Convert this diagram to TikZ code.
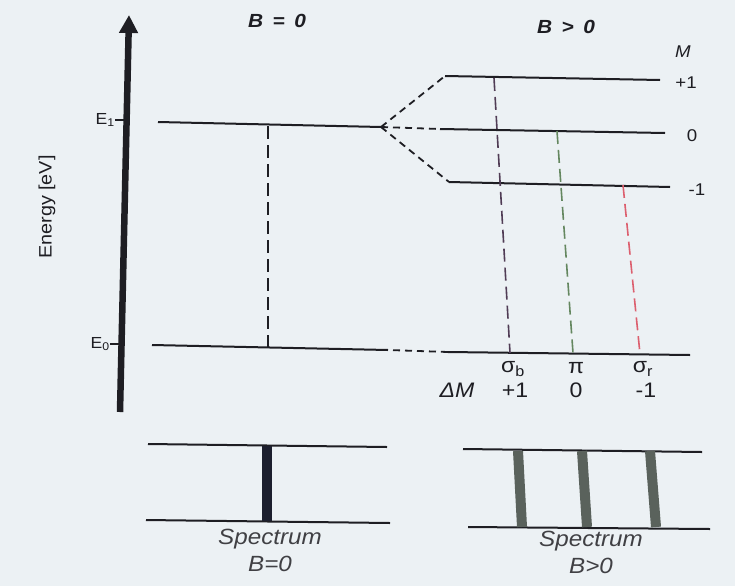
\documentclass[tikz,border=0pt]{standalone}
\usepackage{fontspec}
\setmainfont{Liberation Sans}[FakeStretch=1.1]
\usepackage{xcolor}
\usetikzlibrary{arrows.meta}

\definecolor{paper}{RGB}{236,241,244}
\definecolor{ink}{RGB}{30,30,35}
\definecolor{sigmab}{RGB}{80,60,85}
\definecolor{pigreen}{RGB}{100,135,95}
\definecolor{sigmar}{RGB}{220,95,110}
\definecolor{barnavy}{RGB}{28,31,46}
\definecolor{bargray}{RGB}{90,98,92}

\begin{document}
\begin{tikzpicture}[x=1pt, y=-1pt,
  level/.style={ink, line width=2pt},
  splitline/.style={ink, line width=1.8pt, dash pattern=on 7pt off 5pt},
  transline/.style={line width=1.6pt, dash pattern=on 13pt off 6pt},
  lbl/.style={inner sep=0pt, text=ink, font=\fontsize{17}{20}\selectfont},
  head/.style={inner sep=0pt, text=ink, font=\fontsize{19}{22}\selectfont\bfseries\itshape},
  spec/.style={inner sep=0pt, text=ink!85, align=center, font=\fontsize{22}{27}\selectfont\itshape},
  specbar/.style={line width=10pt, bargray}]
\useasboundingbox (0,0) rectangle (735,586);
\fill[paper] (0,0) rectangle (735,586);

% energy axis
\coordinate (axbot) at (120,412);
\coordinate (axtop) at (129,15);
\draw[ink, line width=6.5pt, -{Triangle[length=18pt,width=18pt]}] (axbot) -- (axtop);
\node[lbl, rotate=90, font=\fontsize{18}{21}\selectfont] (energy) at (47,207) {Energy [eV]};
\node[lbl, anchor=east, font=\fontsize{16}{18}\selectfont] (e1) at (115,120) {E\textsubscript{1}};
\node[lbl, anchor=east, font=\fontsize{16}{18}\selectfont] (e0) at (110,344) {E\textsubscript{0}};
\draw[ink, line width=1.2pt] (e1.east) -- ++(12,0);
\draw[ink, line width=1.2pt] (e0.east) -- ++(10,0);

\node[head] (bzero) at (277,21) {B\enspace=\enspace0};
\node[head] (bpos) at (566,27) {B\enspace>\enspace0};

% levels, B = 0
\coordinate (e1l) at (158,122);
\coordinate (split) at (381,127);
\coordinate (e0l) at (152,345);
\coordinate (e0r) at (388,350);
\draw[level] (e1l) -- (split);
\draw[level] (e0l) -- (e0r);

% levels, B > 0
\coordinate (pl) at (445,76);  \coordinate (pr) at (660,80);
\coordinate (zl) at (440,129); \coordinate (zr) at (665,133);
\coordinate (ml) at (449,182); \coordinate (mr) at (670,187);
\coordinate (gl) at (448,352); \coordinate (gr) at (690,355);
\draw[level] (pl) -- (pr);
\draw[level] (zl) -- (zr);
\draw[level] (ml) -- (mr);
\draw[level] (gl) -- (gr);
\draw[splitline] (split) -- (pl);
\draw[splitline] (split) -- (zl);
\draw[splitline] (split) -- (ml);
\draw[splitline, shorten <=5pt] (e0r) -- (gl);

\node[lbl, font=\fontsize{17}{19}\selectfont\itshape] (mhead) at (683,52) {M};
\node[lbl] (mplus) at (686,83) {+1};
\node[lbl] (mzero) at (692,136) {0};
\node[lbl] (mminus) at (697,190) {-1};

% transitions
\coordinate (t0a) at (268,126); \coordinate (t0b) at (268,347);
\coordinate (tba) at (494,78);  \coordinate (tbb) at (510,353);
\coordinate (tpa) at (557,131); \coordinate (tpb) at (573,353);
\coordinate (tra) at (623,185); \coordinate (trb) at (640,354);
\draw[transline, ink] (t0a) -- (t0b);
\draw[transline, sigmab] (tba) -- (tbb);
\draw[transline, pigreen] (tpa) -- (tpb);
\draw[transline, sigmar] (tra) -- (trb);

\node[lbl, font=\fontsize{21}{23}\selectfont] (sb) at (513,369) {σ\textsubscript{b}};
\node[lbl, font=\fontsize{21}{23}\selectfont] (pi) at (576,368) {π};
\node[lbl, font=\fontsize{21}{23}\selectfont] (sr) at (643,369) {σ\textsubscript{r}};
\node[lbl, font=\fontsize{21}{23}\selectfont\itshape] (dm) at (457,390) {ΔM};
\node[lbl, font=\fontsize{21}{23}\selectfont] (dmb) at (515,390) {+1};
\node[lbl, font=\fontsize{21}{23}\selectfont] (dmp) at (576,390) {0};
\node[lbl, font=\fontsize{21}{23}\selectfont] (dmr) at (646,390) {-1};

% spectra
\draw[level] (148,444) -- (387,447);
\draw[level] (146,520) -- (390,523);
\draw[line width=10pt, barnavy] (267,446) -- (267,521);
\node[spec] (speca) at (270,550) {Spectrum\\B=0};

\draw[level] (463,449) -- (702,452);
\draw[level] (468,527) -- (710,529);
\foreach \xt/\xb in {518/522, 582/587, 650/656}
  \draw[specbar] (\xt,451) -- (\xb,527);
\node[spec] (specb) at (591,552) {Spectrum\\B>0};
\end{tikzpicture}
\end{document}
